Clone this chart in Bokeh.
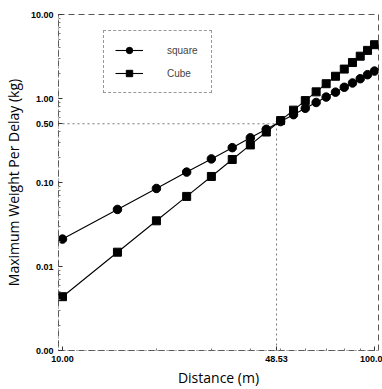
from bokeh.plotting import figure
from bokeh.models import FixedTicker, Legend, LegendItem
from bokeh.embed import file_html
from bokeh.resources import INLINE

# ---- data ----
distance = [10, 15, 20, 25, 30, 35, 40, 45, 50, 55, 60, 65, 70, 75, 80, 85, 90, 95, 100]
square_w = [0.0212, 0.0478, 0.0849, 0.133, 0.191, 0.260, 0.340, 0.430, 0.531, 0.642,
            0.764, 0.897, 1.04, 1.19, 1.36, 1.53, 1.72, 1.92, 2.12]
cube_w = [0.00437, 0.0148, 0.0350, 0.0683, 0.118, 0.188, 0.280, 0.399, 0.546, 0.727,
          0.944, 1.20, 1.50, 1.84, 2.24, 2.68, 3.19, 3.74, 4.37]
cross_x = 48.53
cross_y = 0.5
x_ticks = [10, 48.53, 100]
x_tick_labels = ["10.00", "48.53", "100.0"]
x_minor = [20, 30, 40, 50, 60, 70, 80, 90]
y_ticks = [0.001, 0.01, 0.1, 0.5, 1, 10]
y_tick_labels = ["0.00", "0.01", "0.10", "0.50", "1.00", "10.00"]
y_minor = [0.002, 0.003, 0.004, 0.005, 0.006, 0.007, 0.008, 0.009,
           0.02, 0.03, 0.04, 0.05, 0.06, 0.07, 0.08, 0.09,
           0.2, 0.3, 0.4, 0.6, 0.7, 0.8, 0.9,
           2, 3, 4, 5, 6, 7, 8, 9]

TICK_FONT = "'Liberation Sans Narrow', 'Liberation Sans', sans-serif"
LABEL_FONT = "'Open Sans', sans-serif"

# small padding so that edge markers are not clipped (10 and 100 sit 4px inside the frame)
pad = 4.0 / 312.0
x_lo = 10 ** (1 - pad)
x_hi = 10 ** (2 + pad)

p = figure(width=382, height=389, x_axis_type="log", y_axis_type="log",
           x_range=(x_lo, x_hi), y_range=(0.001, 10),
           output_backend="svg", toolbar_location=None,
           min_border_left=58, min_border_right=4, min_border_top=14, min_border_bottom=37)

p.grid.visible = False
p.outline_line_color = "#555555"
p.outline_line_dash = "6 4"
p.outline_line_width = 1

# reference (drop) lines at the crossing point
p.line([x_ticks[0], cross_x], [cross_y, cross_y], line_color="#777777", line_dash="2 3", line_width=1)
p.line([cross_x, cross_x], [y_ticks[0], cross_y], line_color="#777777", line_dash="2 3", line_width=1)

l1 = p.line(distance, square_w, line_color="black", line_width=1.1)
m1 = p.scatter(distance, square_w, marker="circle", size=8.5, fill_color="black", line_color="black")
l2 = p.line(distance, cube_w, line_color="black", line_width=1.1)
m2 = p.scatter(distance, cube_w, marker="square", size=8, fill_color="black", line_color="black")

# axes
p.xaxis.ticker = FixedTicker(ticks=x_ticks, minor_ticks=x_minor)
p.xaxis.major_label_overrides = {t: s for t, s in zip(x_ticks, x_tick_labels)}
p.yaxis.ticker = FixedTicker(ticks=y_ticks, minor_ticks=y_minor)
p.yaxis.major_label_overrides = {t: s for t, s in zip(y_ticks, y_tick_labels)}

for ax in (p.xaxis[0], p.yaxis[0]):
    ax.major_tick_in = 4
    ax.major_tick_out = 0
    ax.minor_tick_in = 2
    ax.minor_tick_out = 0
    ax.axis_line_color = "#666666"
    ax.axis_line_dash = "1 2"
    ax.major_tick_line_color = "#333333"
    ax.minor_tick_line_color = "#777777"
    ax.major_label_text_font = TICK_FONT
    ax.major_label_text_font_style = "bold"
    ax.major_label_text_font_size = "9px"
    ax.major_label_text_color = "black"
    ax.axis_label_text_font = LABEL_FONT
    ax.axis_label_text_font_style = "normal"
    ax.axis_label_text_font_size = "14px"
    ax.axis_label_text_color = "black"

p.xaxis.axis_label = "Distance (m)"
p.yaxis.axis_label = "Maximum Weight Per Delay (kg)"
p.xaxis.major_label_standoff = 5
p.xaxis.axis_label_standoff = 3
p.yaxis.major_label_standoff = 5
p.yaxis.axis_label_standoff = 5

legend = Legend(items=[LegendItem(label="square", renderers=[l1, m1]),
                       LegendItem(label="Cube", renderers=[l2, m2])],
                location=(45, 257))
legend.border_line_color = "#333333"
legend.border_line_dash = "5 4"
legend.border_line_width = 1
legend.background_fill_color = "white"
legend.padding = 11
legend.margin = 0
legend.spacing = 7
legend.glyph_width = 28
legend.glyph_height = 16
legend.label_height = 16
legend.label_standoff = 24
legend.label_width = 33
legend.label_text_font = "'Liberation Sans', sans-serif"
legend.label_text_font_size = "10px"
p.add_layout(legend)

open("out.html", "w").write(file_html(p, INLINE))
